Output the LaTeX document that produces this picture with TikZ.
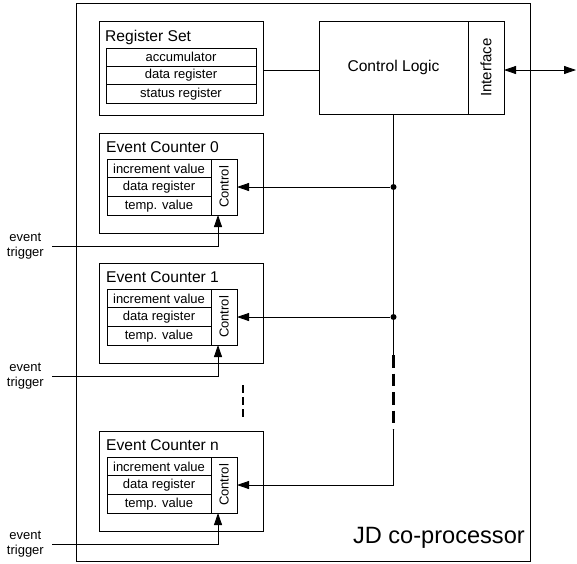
\documentclass[tikz,border=0pt]{standalone}
\usepackage{fontspec}
\setmainfont{Liberation Sans}
\usetikzlibrary{arrows.meta,positioning}

\newcommand{\lblfont}{\fontsize{13}{14.5}\selectfont}
\newcommand{\ttlfont}{\fontsize{15.6}{18}\selectfont}
\newcommand{\bigfont}{\fontsize{23.6}{27}\selectfont}

\tikzset{
  block/.style={draw, line width=0.8pt, anchor=north west, inner sep=0pt, outer sep=0pt},
  regrow/.style={draw, line width=0.8pt, minimum width=150pt, minimum height=18.3pt, inner sep=0pt, outer sep=0pt, font=\lblfont},
  cntrow/.style={regrow, minimum width=104pt, minimum height=18.7pt},
  title/.style={anchor=base west, inner sep=0pt, font=\ttlfont},
  wire/.style={line width=0.8pt},
  tip/.style={-{Triangle[length=12pt,width=8pt]}},
  junction/.style={circle, fill, inner sep=0pt, minimum size=6pt},
}

\begin{document}
\begin{tikzpicture}[x=1pt,y=-1pt]
  \useasboundingbox (0,0) rectangle (577,563);

  % JD co-processor frame
  \node[draw, line width=1.2pt, anchor=north west, minimum width=454pt, minimum height=558pt, inner sep=0pt] (jdbox) at (76,3) {};
  \node[anchor=base east, font=\bigfont, inner sep=0pt] (jd) at (525,543) {JD co-processor};

  % register set
  \node[block, minimum width=164pt, minimum height=94pt] (regset) at (99,21) {};
  \node[title] (regttl) at (105,41) {Register Set};
  \node[regrow, anchor=north west] (acc) at (106,48) {accumulator};
  \node[regrow, below=0pt of acc] (dreg) {data register};
  \node[regrow, below=0pt of dreg] (sreg) {status register};

  % control logic + interface
  \node[block, minimum width=149pt, minimum height=93pt, font=\ttlfont] (ctrl) at (319,21) {Control Logic};
  \node[block, minimum width=36pt, minimum height=93pt] (iface) at (ctrl.north east) {};
  \node[rotate=90, font=\fontsize{15}{17}\selectfont] (ifacettl) at (iface) {Interface};

  \coordinate (ext) at (576,70);
  \draw[wire] (regset.east |- ext) -- (ctrl.west |- ext);
  \draw[wire, {Triangle[length=12pt,width=8pt]}-{Triangle[length=12pt,width=8pt]}] (iface.east |- ext) -- (ext);

  % event counters
  \foreach \n/\t in {0/133,1/263,n/431} {
    \node[block, minimum width=164pt, minimum height=100pt] (c\n box) at (99,\t) {};
    \node[title] (c\n ttl) at (106,\t+19.5) {Event Counter \n};
    \node[cntrow, anchor=north west] (c\n inc) at (107,\t+26) {increment value};
    \node[cntrow, below=0pt of c\n inc] (c\n dat) {data register};
    \node[cntrow, below=0pt of c\n dat] (c\n tmp) {temp. value};
    \node[block, minimum width=26pt, minimum height=56pt] (c\n ctl) at (211,\t+26) {};
    \node[rotate=90, font=\lblfont] (c\n ctltxt) at (c\n ctl) {Control};
    % event trigger input
    \node[font=\lblfont, align=center, anchor=east, inner sep=0pt] (c\n trg) at (44,\t+113) {event\\trigger};
    \draw[wire, tip] ([xshift=8pt]c\n trg.east) -| ([xshift=-6pt]c\n ctl.south);
  }

  % bus from control logic
  \node[junction] (j0) at (ctrl.south |- c0ctl.east) {};
  \node[junction] (j1) at (ctrl.south |- c1ctl.east) {};
  \coordinate (dashtop) at (393.5,355);
  \coordinate (dashbot) at (393.5,429);
  \draw[wire] (ctrl.south) -- (j0) -- (j1) -- (dashtop);
  \draw[line width=2.2pt, dash pattern=on 12.5pt off 6pt] (dashtop) -- (dashbot);
  \draw[wire] (dashbot) -- (ctrl.south |- cnctl.east);
  \draw[wire, tip] (j0) -- (c0ctl.east);
  \draw[wire, tip] (j1) -- (c1ctl.east);
  \draw[wire, tip] (ctrl.south |- cnctl.east) -- (cnctl.east);

  % more counters
  \draw[line width=2.2pt, dash pattern=on 8pt off 4pt] (243,385) -- (243,417);
\end{tikzpicture}
\end{document}
